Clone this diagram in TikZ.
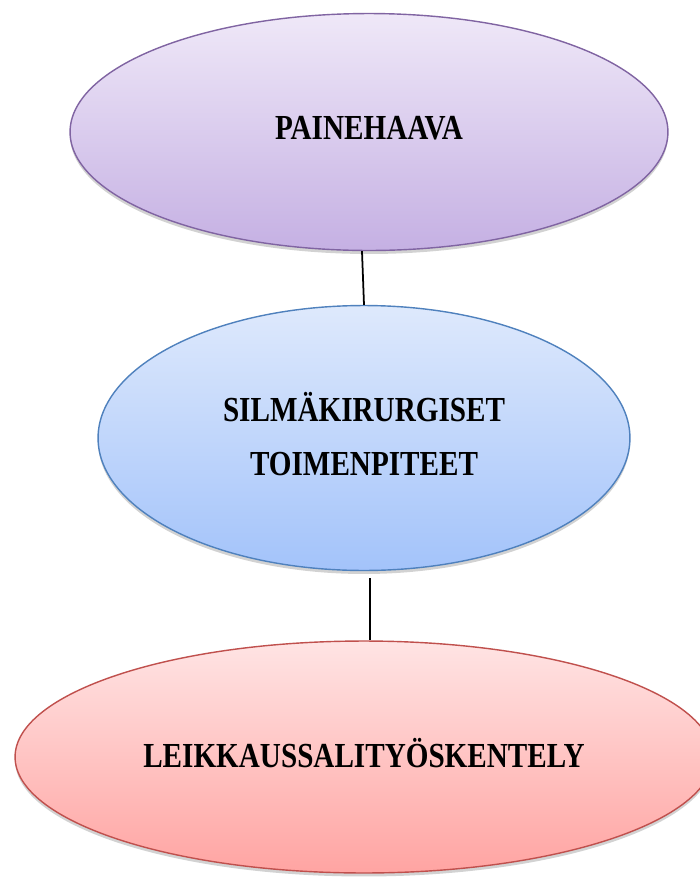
\documentclass[tikz,border=0pt]{standalone}
\usepackage{fontspec}
\setmainfont{Liberation Serif}[FakeStretch=0.83]
\usetikzlibrary{shapes.geometric,shadows}
\definecolor{purpleline}{HTML}{8064A2}
\definecolor{purpletop}{HTML}{EFE8F8}
\definecolor{purplebot}{HTML}{C5B0E3}
\definecolor{blueline}{HTML}{4F81BD}
\definecolor{bluetop}{HTML}{DEE9FC}
\definecolor{bluebot}{HTML}{A3C3FA}
\definecolor{redline}{HTML}{C0504D}
\definecolor{redtop}{HTML}{FFE4E4}
\definecolor{redbot}{HTML}{FFA4A2}
\begin{document}
\begin{tikzpicture}[x=0.02cm,y=-0.02cm,
  oval/.style={ellipse,inner sep=0pt,line width=0.8pt,align=center,text depth=5pt,
    font=\fontsize{20}{24}\selectfont\bfseries,
    drop shadow={opacity=0.35,shadow xshift=0pt,shadow yshift=-0.07cm}}]
\useasboundingbox[fill=white] (0,0) rectangle (700,877);

\node (pain) at (369,132) [oval,draw=purpleline,top color=purpletop,bottom color=purplebot,
  minimum width=11.96cm,minimum height=4.74cm]{PAINEHAAVA};
\node (silma) at (364,438) [oval,draw=blueline,top color=bluetop,bottom color=bluebot,
  minimum width=10.64cm,minimum height=5.3cm]{SILMÄKIRURGISET\\[7pt]TOIMENPITEET};
\node (leik) at (364,757) [oval,draw=redline,top color=redtop,bottom color=redbot,
  minimum width=13.96cm,minimum height=4.64cm]{LEIKKAUSSALITYÖSKENTELY};

\draw[line width=1pt] ([xshift=-0.14cm]pain.south) -- (silma.north);
\draw[line width=1pt] ([xshift=0.12cm,yshift=-0.14cm]silma.south) -- ([xshift=0.12cm]leik.north);

\end{tikzpicture}
\end{document}
